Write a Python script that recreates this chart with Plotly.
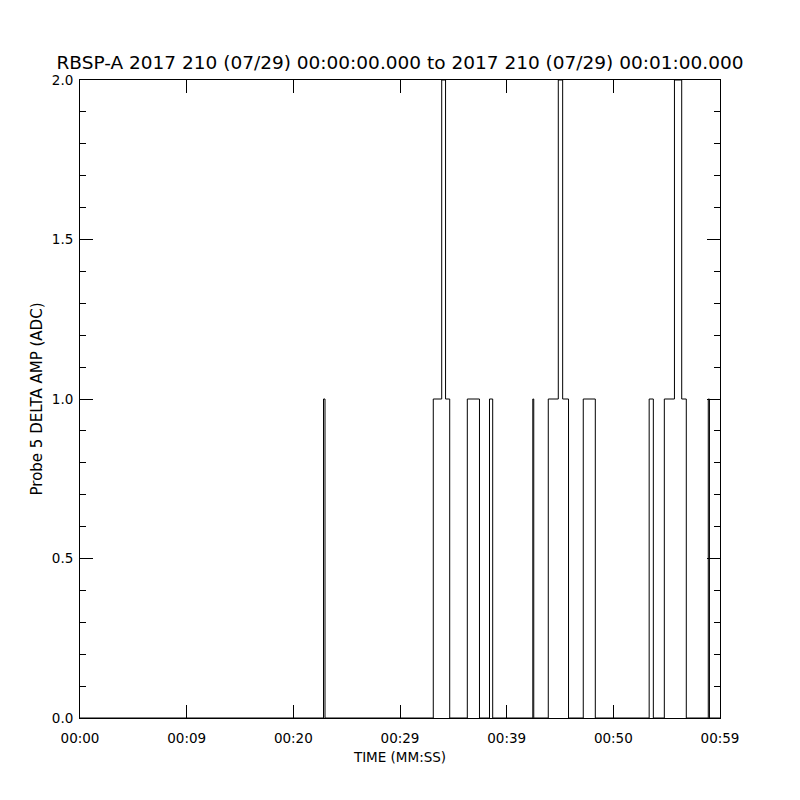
import plotly.graph_objects as go

# Step-change times (seconds after 00:00:00) and the amplitude held from each time
change_times = [0.0, 22.83, 22.97, 33.12, 33.91, 34.27, 34.66, 36.31, 37.45,
                38.39, 38.69, 42.45, 42.54, 43.90, 44.84, 45.25, 45.80,
                47.18, 48.31, 53.36, 53.75, 54.78, 55.73, 56.41, 56.84,
                58.90, 59.01, 60.0]
amp_values = [0, 1, 0, 1, 2, 1, 0, 1, 0,
              1, 0, 1, 0, 1, 2, 1, 0,
              1, 0, 1, 0, 1, 2, 1, 0,
              1, 0, 0]

x_tick_vals = [0, 10, 20, 30, 40, 50, 60]
x_tick_text = ["00:00", "00:09", "00:20", "00:29", "00:39", "00:50", "00:59"]
y_tick_vals = [0.0, 0.5, 1.0, 1.5, 2.0]

title_text = "RBSP-A 2017 210 (07/29) 00:00:00.000 to 2017 210 (07/29) 00:01:00.000"

FONT = "DejaVu Sans"

fig = go.Figure()
fig.add_trace(go.Scatter(
    x=change_times, y=amp_values, mode="lines",
    line=dict(color="black", width=1, shape="hv"),
    showlegend=False, hoverinfo="skip",
))

fig.update_layout(
    width=800, height=800,
    margin=dict(l=72, r=88, t=72, b=90),
    paper_bgcolor="white", plot_bgcolor="white",
    font=dict(family=FONT, size=14, color="black"),
    title=dict(text=title_text, x=(400 - 8) / 800, xanchor="center",
               y=1 - 55 / 800, yanchor="middle", yref="container",
               font=dict(family=FONT, size=18.5, color="black")),
)

fig.update_xaxes(
    range=[0, 60], tickvals=x_tick_vals, ticktext=x_tick_text,
    showgrid=False, zeroline=False,
    showline=True, linecolor="black", linewidth=1, mirror="ticks",
    ticks="inside", ticklen=13, tickwidth=1, tickcolor="black",
    tickfont=dict(family=FONT, size=13.5), ticklabelstandoff=8,
    title=dict(text="TIME (MM:SS)", font=dict(family=FONT, size=13.5), standoff=7),
)
fig.update_yaxes(
    range=[0, 2.0], tickvals=y_tick_vals, tickformat=".1f",
    showgrid=False, zeroline=False,
    showline=True, linecolor="black", linewidth=1, mirror="ticks",
    ticks="inside", ticklen=13, tickwidth=1, tickcolor="black",
    minor=dict(dtick=0.1, ticks="inside", ticklen=6, tickcolor="black", tickwidth=1, showgrid=False),
    tickfont=dict(family=FONT, size=13.5), ticklabelstandoff=3,
    title=dict(text="Probe 5 DELTA AMP (ADC)", font=dict(family=FONT, size=15), standoff=5),
)

fig.write_html("out.html")
